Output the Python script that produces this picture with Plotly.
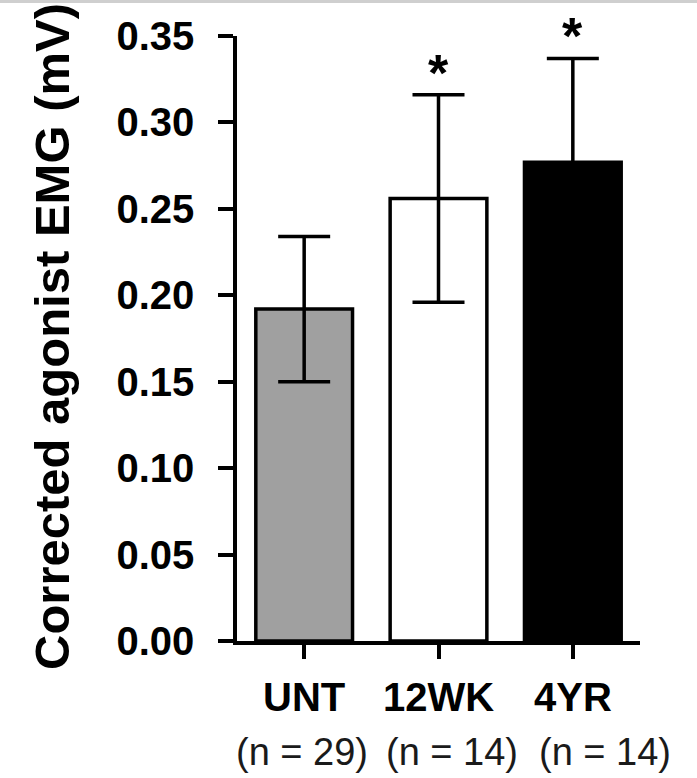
import plotly.graph_objects as go

categories = ["UNT", "12WK", "4YR"]
n_labels = ["(n = 29)", "(n = 14)", "(n = 14)"]
means = [0.192, 0.256, 0.277]
errors = [0.042, 0.060, 0.060]
bar_colors = ["#a0a0a0", "#ffffff", "#000000"]
significant = [False, True, True]
ytick_vals = [0.00, 0.05, 0.10, 0.15, 0.20, 0.25, 0.30, 0.35]
ytick_text = ["0.00", "0.05", "0.10", "0.15", "0.20", "0.25", "0.30", "0.35"]

FONT = "Liberation Sans, Arial, sans-serif"
x_idx = list(range(len(categories)))
n_label_shift = [-2, 13, 32]

fig = go.Figure()
fig.add_trace(go.Bar(
    x=x_idx, y=means,
    marker=dict(color=bar_colors, line=dict(color="black", width=3.5)),
    error_y=dict(type="data", array=errors, visible=True,
                 color="black", thickness=3.5, width=26),
    showlegend=False,
))

annotations = []
for i, (m, e, s) in enumerate(zip(means, errors, significant)):
    if s:
        annotations.append(dict(
            x=i, y=m + e, xref="x", yref="y", text="<b>*</b>",
            showarrow=False, yanchor="bottom", yshift=-9,
            font=dict(family=FONT, size=52, color="black")))
for i, (c, n) in enumerate(zip(categories, n_labels)):
    annotations.append(dict(
        x=i, y=-0.092, xref="x", yref="paper", text="<b>%s</b>" % c,
        showarrow=False, yanchor="middle",
        font=dict(family=FONT, size=40, color="black")))
    annotations.append(dict(
        x=i, y=-0.183, xref="x", yref="paper", text=n,
        showarrow=False, yanchor="middle", xshift=n_label_shift[i],
        font=dict(family=FONT, size=38, color="#1a1a1a")))
annotations.append(dict(
    x=-0.459, y=0.5025, xref="paper", yref="paper",
    text="<b>Corrected agonist EMG (mV)</b>", textangle=-90,
    showarrow=False, xanchor="center", yanchor="middle",
    font=dict(family=FONT, size=49, color="black")))

fig.update_layout(
    width=697, height=778,
    margin=dict(l=237, r=57, t=36, b=137),
    paper_bgcolor="white", plot_bgcolor="white",
    bargap=0.28,
    annotations=annotations,
    shapes=[dict(type="line", xref="paper", yref="paper",
                 x0=-1, x1=2, y0=1.0579, y1=1.0579,
                 line=dict(color="#cfcfcf", width=4))],
    xaxis=dict(range=[-0.5, 2.5], tickvals=x_idx, showticklabels=False,
               showline=True, linecolor="black", linewidth=3.5,
               ticks="outside", ticklen=14, tickwidth=3.5, tickcolor="black",
               showgrid=False, zeroline=False, fixedrange=True),
    yaxis=dict(range=[0, 0.35], tickvals=ytick_vals, ticktext=ytick_text,
               showline=True, linecolor="black", linewidth=3.5,
               ticks="outside", ticklen=15, tickwidth=3.5, tickcolor="black",
               ticklabelstandoff=16,
               tickfont=dict(family=FONT, size=40, color="black", weight="bold"),
               showgrid=False, zeroline=False, fixedrange=True),
)

fig.write_html("out.html")
